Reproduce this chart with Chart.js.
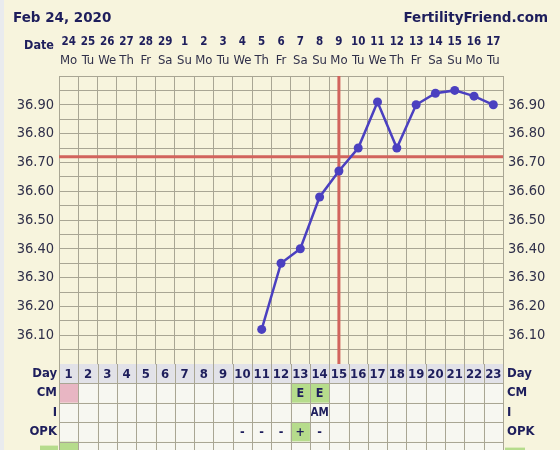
<!DOCTYPE html>
<html>
<head>
<meta charset="utf-8">
<title>BBT chart</title>
<script src="https://cdn.jsdelivr.net/npm/chart.js@4.4.1/dist/chart.umd.min.js"></script>
<style>
  html, body { margin: 0; padding: 0; background: #f7f4dd; }
  #bbt { display: block; }
</style>
</head>
<body>
<canvas id="bbt" width="560" height="450"></canvas>
<script>
// ---- Chart data ----
const chartTitle = 'Feb 24, 2020';
const siteName = 'FertilityFriend.com';

const cycleDays = ['1','2','3','4','5','6','7','8','9','10','11','12','13','14','15','16','17','18','19','20','21','22','23'];
const dateLabels = ['24','25','26','27','28','29','1','2','3','4','5','6','7','8','9','10','11','12','13','14','15','16','17'];
const weekdayLabels = ['Mo','Tu','We','Th','Fr','Sa','Su','Mo','Tu','We','Th','Fr','Sa','Su','Mo','Tu','We','Th','Fr','Sa','Su','Mo','Tu'];

// temperatures in °C, null = not recorded
const temps = [null, null, null, null, null, null, null, null, null, null,
  36.12, 36.35, 36.40, 36.58, 36.67, 36.75, 36.91, 36.75, 36.90, 36.94, 36.95, 36.93, 36.90];

const coverline = 36.72;
const ovulationDay = 15;
const tempMin = 36.0;
const tempMax = 37.0;

// table rows under the chart
const periodDays = [1];
const cmValues  = ['','','','','','','','','','','','','E','E','','','','','','','','',''];
const sexValues = ['','','','','','','','','','','','','','AM','','','','','','','','',''];
const opkValues = ['','','','','','','','','','-','-','-','+','-','','','','','','','','',''];

// ---- Colours ----
const C = {
  bg:      '#f7f4dd',
  edge:    '#e9ebee',
  text:    '#1e1e5c',
  tick:    '#30304a',
  grid:    '#a9a694',
  red:     '#d2645d',
  blue:    '#4b40c0',
  cell:    '#f7f7f1',
  head:    '#e2e2e8',
  pink:    '#e8b6c3',
  green:   '#b6dc8c',
};

const FONT = "'DejaVu Sans', Verdana, sans-serif";
const NARROW = "'DejaVu Sans Condensed', 'DejaVu Sans', sans-serif";

// ---- Drawing extras: background, cover/ovulation lines, header, table ----
const bbtOverlay = {
  id: 'bbtOverlay',
  beforeDraw(chart) {
    const ctx = chart.ctx;
    ctx.save();
    ctx.fillStyle = C.edge;
    ctx.fillRect(0, 0, chart.width, chart.height);
    ctx.fillStyle = C.bg;
    ctx.fillRect(4, 0, chart.width - 4, chart.height);
    ctx.restore();
  },
  beforeDatasetsDraw(chart) {
    const ctx = chart.ctx;
    const a = chart.chartArea;
    const y = chart.scales.y.getPixelForValue(coverline);
    const x = chart.scales.x.getPixelForValue(ovulationDay - 1);
    ctx.save();
    ctx.strokeStyle = C.red;
    ctx.lineWidth = 3;
    ctx.beginPath();
    ctx.moveTo(a.left, y);
    ctx.lineTo(a.right, y);
    ctx.moveTo(x, a.top);
    ctx.lineTo(x, a.bottom);
    ctx.stroke();
    ctx.restore();
  },
  afterDraw(chart) {
    const ctx = chart.ctx;
    const a = chart.chartArea;
    const xs = chart.scales.x;
    const colW = (a.right - a.left) / cycleDays.length;
    const rowH = 19.4;

    ctx.save();
    ctx.fillStyle = C.text;

    // header
    ctx.textBaseline = 'alphabetic';
    ctx.font = 'bold 13.5px ' + FONT;
    ctx.textAlign = 'left';
    ctx.fillText(chartTitle, 13, 22);
    ctx.textAlign = 'right';
    ctx.fillText(siteName, 548, 22);

    ctx.font = 'bold 12.5px ' + NARROW;
    ctx.textBaseline = 'middle';
    ctx.fillText('Date', 54, 46);

    // table
    const rows = [
      { label: 'Day', values: cycleDays, fill: () => C.head },
      { label: 'CM',  values: cmValues,  fill: (v, d) => periodDays.includes(d) ? C.pink : (v === 'E' ? C.green : C.cell) },
      { label: 'I',   values: sexValues, fill: () => C.cell },
      { label: 'OPK', values: opkValues, fill: (v) => v === '+' ? C.green : C.cell },
      { label: '',    values: cycleDays.map(() => ''), fill: (v, d) => periodDays.includes(d) ? C.green : C.cell },
    ];

    rows.forEach((row, r) => {
      const top = a.bottom + r * rowH;
      row.values.forEach((v, i) => {
        const cx = xs.getPixelForValue(i);
        ctx.fillStyle = row.fill(v, i + 1);
        ctx.fillRect(cx - colW / 2, top, colW, rowH);
        if (v) {
          ctx.fillStyle = C.text;
          ctx.textAlign = 'center';
          ctx.font = (r === 0 ? 'bold 13px ' : (v === 'AM' ? 'bold 11.5px ' : 'bold 12.5px ')) + NARROW;
          ctx.fillText(v, cx, top + rowH / 2 + 0.5);
        }
      });
      if (row.label) {
        ctx.fillStyle = C.text;
        ctx.font = 'bold 13px ' + NARROW;
        ctx.textAlign = 'right';
        ctx.fillText(row.label, a.left - 2, top + rowH / 2);
        ctx.textAlign = 'left';
        ctx.fillText(row.label, a.right + 4, top + rowH / 2);
      } else {
        ctx.fillStyle = C.green;
        ctx.fillRect(a.left - 19, top + 4, 18, rowH);
        ctx.fillRect(a.right + 2, top + 6, 20, rowH);
      }
    });

    // table grid
    ctx.strokeStyle = C.grid;
    ctx.lineWidth = 1;
    ctx.beginPath();
    for (let i = 0; i <= cycleDays.length; i++) {
      const x = Math.round(a.left + i * colW) + 0.5;
      ctx.moveTo(x, a.bottom);
      ctx.lineTo(x, chart.height);
    }
    for (let r = 1; r <= rows.length; r++) {
      const y = Math.round(a.bottom + r * rowH) + 0.5;
      ctx.moveTo(a.left, y);
      ctx.lineTo(a.right, y);
    }
    ctx.stroke();
    ctx.restore();
  }
};

function yTickLabel(v) {
  const k = Math.round((v - tempMin) * 20);
  return (k % 2 === 0 && k > 0 && k < 20) ? v.toFixed(2) : '';
}

new Chart(document.getElementById('bbt'), {
  type: 'line',
  data: {
    labels: cycleDays,
    datasets: [{
      label: 'Temperature',
      data: temps,
      borderColor: C.blue,
      backgroundColor: C.blue,
      borderWidth: 2.5,
      pointRadius: 4.5,
      pointBorderWidth: 0,
      pointBackgroundColor: C.blue,
      tension: 0,
      spanGaps: false,
    }]
  },
  options: {
    responsive: false,
    animation: false,
    layout: { padding: { top: 30, bottom: 86, left: 0, right: 0 } },
    plugins: { legend: { display: false }, tooltip: { enabled: false } },
    scales: {
      x: {
        type: 'category',
        position: 'top',
        offset: true,
        weight: 0,
        grid: { color: C.grid, offset: true, drawTicks: false, lineWidth: 1 },
        border: { color: C.grid },
        ticks: {
          autoSkip: false, maxRotation: 0, padding: 8,
          color: C.tick, font: { family: NARROW, size: 13 },
          callback: (v, i) => weekdayLabels[i]
        },
        afterFit: s => { s.height = 24; }
      },
      xDate: {
        type: 'category',
        position: 'top',
        labels: dateLabels,
        offset: true,
        weight: 1,
        grid: { display: false, drawTicks: false },
        border: { display: false },
        ticks: {
          autoSkip: false, maxRotation: 0, padding: 3,
          color: C.text, font: { family: NARROW, size: 11.5, weight: 'bold' }
        },
        afterFit: s => { s.height = 22; }
      },
      y: {
        position: 'left',
        min: tempMin, max: tempMax,
        grid: { color: C.grid, drawTicks: false, lineWidth: 1 },
        border: { color: C.grid },
        ticks: {
          stepSize: 0.05, maxTicksLimit: 100, autoSkip: false, padding: 5,
          color: C.tick, font: { family: NARROW, size: 14.5 },
          callback: yTickLabel
        },
        afterFit: s => { s.width = 59; }
      },
      y2: {
        position: 'right',
        min: tempMin, max: tempMax,
        grid: { display: false, drawTicks: false },
        border: { color: C.grid },
        ticks: {
          stepSize: 0.05, maxTicksLimit: 100, autoSkip: false, padding: 5,
          color: C.tick, font: { family: NARROW, size: 14.5 },
          callback: yTickLabel
        },
        afterFit: s => { s.width = 57; }
      }
    }
  },
  plugins: [bbtOverlay]
});
</script>
</body>
</html>
